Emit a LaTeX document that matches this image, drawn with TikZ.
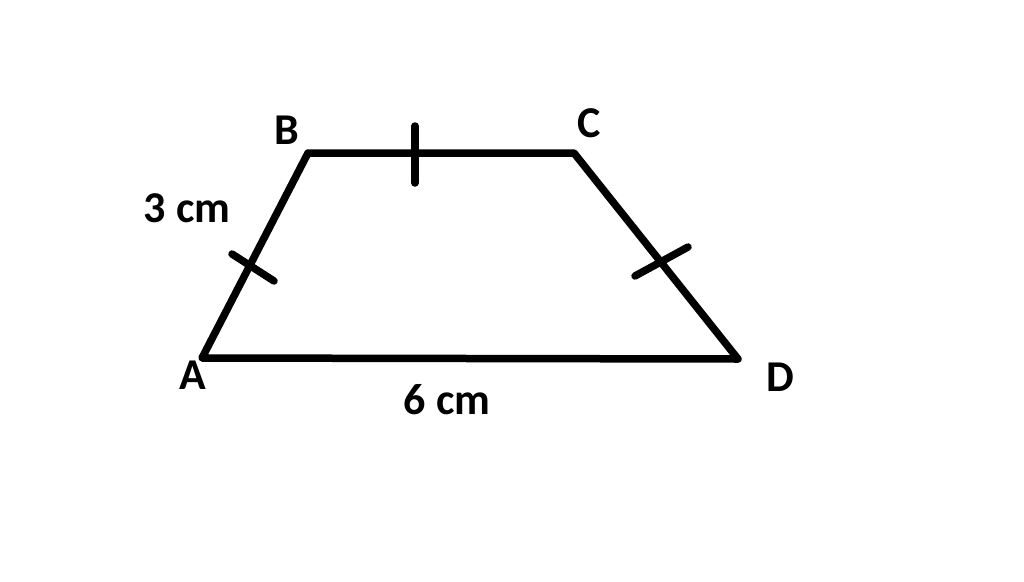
\documentclass[tikz,border=0pt]{standalone}
\usepackage{fontspec}
\setmainfont{Carlito}
\begin{document}
\begin{tikzpicture}[x=1pt,y=-1pt,
  edge/.style={line width=7.5pt,line join=round,line cap=round},
  tick/.style={line width=7.5pt,line cap=round},
  lbl/.style={font=\fontsize{44}{46}\selectfont\bfseries,inner sep=0pt}]
\useasboundingbox (0,0) rectangle (1024,581);
\coordinate (A) at (202,358);
\coordinate (B) at (308,153);
\coordinate (C) at (574,153);
\coordinate (D) at (738,359);
\draw[edge] (A) -- (B) -- (C) -- (D) -- cycle;
\coordinate (t1a) at (415,126);
\coordinate (t1b) at (415,183);
\draw[tick] (t1a) -- (t1b);
\coordinate (t2a) at (232,254);
\coordinate (t2b) at (274,281);
\draw[tick] (t2a) -- (t2b);
\coordinate (t3a) at (635,276);
\coordinate (t3b) at (688,247);
\draw[tick] (t3a) -- (t3b);
\node[lbl] (lB) at (287,130) {B};
\node[lbl] (lC) at (589,123) {C};
\node[lbl] (lA) at (193,375) {A};
\node[lbl] (lD) at (780,377) {D};
\node[lbl] (l3) at (187,208) {3 cm};
\node[lbl] (l6) at (447,400) {6 cm};
\end{tikzpicture}
\end{document}
